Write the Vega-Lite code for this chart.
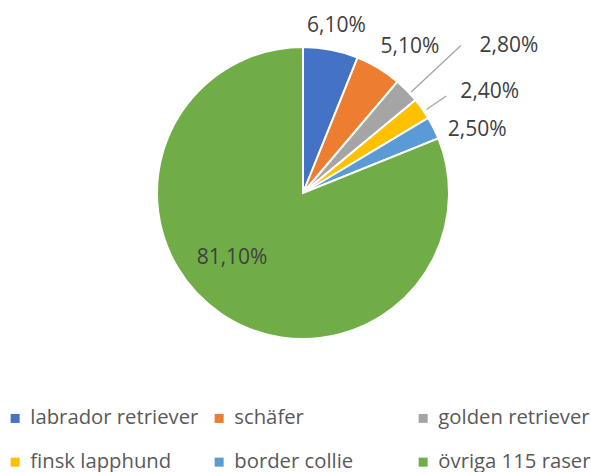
{
  "$schema": "https://vega.github.io/schema/vega-lite/v6.json",
  "width": 576,
  "height": 386,
  "autosize": "none",
  "padding": {"left": 15, "top": 0, "right": 0, "bottom": 86},
  "background": "white",
  "config": {"view": {"stroke": null}},
  "data": {
    "values": [
      {"nr": 1, "ras": "labrador retriever", "andel": 6.1, "etikett": "6,10%"},
      {"nr": 2, "ras": "schäfer", "andel": 5.1, "etikett": "5,10%"},
      {"nr": 3, "ras": "golden retriever", "andel": 2.8, "etikett": "2,80%"},
      {"nr": 4, "ras": "finsk lapphund", "andel": 2.4, "etikett": "2,40%"},
      {"nr": 5, "ras": "border collie", "andel": 2.5, "etikett": "2,50%"},
      {"nr": 6, "ras": "övriga 115 raser", "andel": 81.1, "etikett": "81,10%"}
    ]
  },
  "encoding": {
    "theta": {"field": "andel", "type": "quantitative", "stack": true},
    "order": {"field": "nr", "type": "quantitative"},
    "detail": {"field": "ras", "type": "nominal"}
  },
  "layer": [
    {
      "mark": {"type": "arc", "radius": 146, "stroke": "white", "strokeWidth": 2},
      "encoding": {
        "color": {
          "field": "ras",
          "type": "nominal",
          "scale": {
            "domain": ["labrador retriever", "schäfer", "golden retriever", "finsk lapphund", "border collie", "övriga 115 raser"],
            "range": ["#4472C4", "#ED7D31", "#A5A5A5", "#FFC000", "#5B9BD5", "#70AD47"]
          },
          "legend": {
            "title": null,
            "orient": "none",
            "legendX": -10,
            "legendY": 408,
            "direction": "horizontal",
            "columns": 3,
            "gridAlign": "all",
            "padding": 0,
            "symbolType": "square",
            "symbolSize": 81,
            "symbolStrokeWidth": 0,
            "labelFont": "Open Sans",
            "labelFontSize": 20.3,
            "labelColor": "#595959",
            "labelOffset": 5,
            "labelLimit": 300,
            "columnPadding": 10,
            "rowPadding": 23
          }
        }
      }
    },
    {
      "mark": {"type": "arc", "filled": false, "stroke": "#A5A5A5", "strokeWidth": 1.3, "padAngle": 0.6, "radius": 216, "radius2": 148, "thetaOffset": 0.028, "theta2Offset": 0.028},
      "encoding": {
        "strokeOpacity": {"condition": {"test": "datum.ras === 'golden retriever'", "value": 1}, "value": 0}
      }
    },
    {
      "mark": {"type": "arc", "filled": false, "stroke": "#A5A5A5", "strokeWidth": 1.3, "padAngle": 0.6, "radius": 173, "radius2": 149, "thetaOffset": 0.021, "theta2Offset": 0.021},
      "encoding": {
        "strokeOpacity": {"condition": {"test": "datum.ras === 'finsk lapphund'", "value": 1}, "value": 0}
      }
    },
    {
      "mark": {"type": "text", "radius": 170, "dx": 1, "dy": 0, "font": "Open Sans", "fontSize": 21, "fill": "#404040", "align": "center", "baseline": "middle"},
      "encoding": {"text": {"condition": {"test": "datum.ras === 'labrador retriever'", "field": "etikett"}, "value": ""}}
    },
    {
      "mark": {"type": "text", "radius": 170, "dx": 19, "dy": 0, "font": "Open Sans", "fontSize": 21, "fill": "#404040", "align": "center", "baseline": "middle"},
      "encoding": {"text": {"condition": {"test": "datum.ras === 'schäfer'", "field": "etikett"}, "value": ""}}
    },
    {
      "mark": {"type": "text", "radius": 170, "dx": 85, "dy": -28, "font": "Open Sans", "fontSize": 21, "fill": "#404040", "align": "center", "baseline": "middle"},
      "encoding": {"text": {"condition": {"test": "datum.ras === 'golden retriever'", "field": "etikett"}, "value": ""}}
    },
    {
      "mark": {"type": "text", "radius": 170, "dx": 48, "dy": -3, "font": "Open Sans", "fontSize": 21, "fill": "#404040", "align": "center", "baseline": "middle"},
      "encoding": {"text": {"condition": {"test": "datum.ras === 'finsk lapphund'", "field": "etikett"}, "value": ""}}
    },
    {
      "mark": {"type": "text", "radius": 170, "dx": 22, "dy": 13, "font": "Open Sans", "fontSize": 21, "fill": "#404040", "align": "center", "baseline": "middle"},
      "encoding": {"text": {"condition": {"test": "datum.ras === 'border collie'", "field": "etikett"}, "value": ""}}
    },
    {
      "mark": {"type": "text", "radius": 100, "dx": -15, "dy": -18, "font": "Open Sans", "fontSize": 21, "fill": "#404040", "align": "center", "baseline": "middle"},
      "encoding": {"text": {"condition": {"test": "datum.ras === 'övriga 115 raser'", "field": "etikett"}, "value": ""}}
    }
  ]
}
